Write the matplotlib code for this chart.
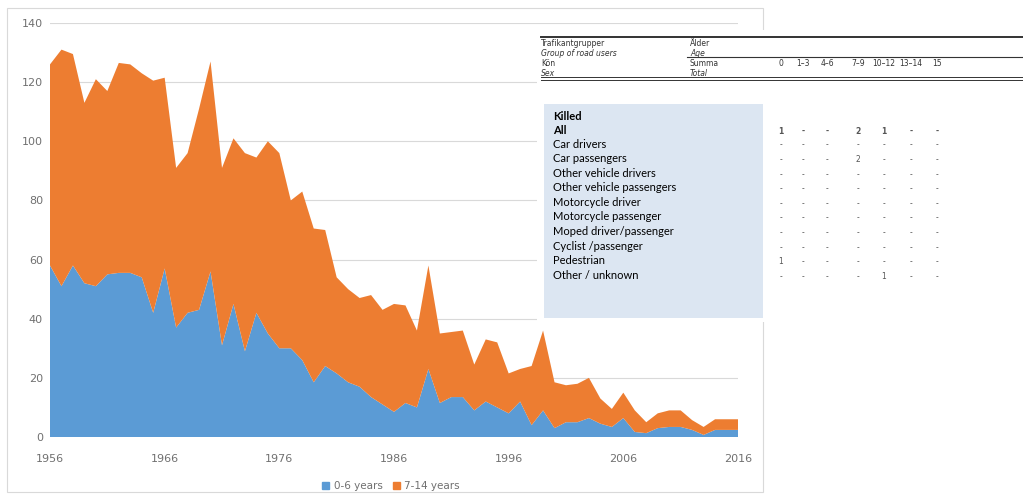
import matplotlib
matplotlib.use("Agg")
import matplotlib.pyplot as plt
from matplotlib.patches import Rectangle, Patch

# years on the x axis
years = list(range(1956, 2017))

# killed children 0-6 years (blue)
age_0_6 = [58, 51, 58, 52, 51, 55, 55.5, 55.5, 54, 42,
           57, 37, 42, 43, 56, 31, 45, 29, 42, 35,
           30, 30, 26, 18.5, 24, 21.5, 18.5, 17, 13.5, 11,
           8.5, 11.5, 10, 23, 11.5, 13.5, 13.5, 9, 12, 10,
           8, 12, 4, 9, 3, 5, 5, 6.4, 4.5, 3.4,
           6.4, 1.7, 1.3, 3, 3.4, 3.4, 2.4, 0.7, 2.4, 2.4,
           2.4]

# killed children 7-14 years (orange)
age_7_14 = [68, 80, 71.5, 61, 70, 62, 71, 70.5, 69, 78.5,
            64.5, 54, 54, 68, 71, 60, 56, 67, 52.5, 65,
            66, 50, 57, 52, 46, 32.5, 31.5, 30, 34.5, 32,
            36.5, 33, 26, 35, 23.5, 22, 22.5, 15.5, 21, 22,
            13.5, 11, 20, 27, 15.5, 12.5, 13, 13.6, 8.5, 6.1,
            8.6, 7.3, 3.7, 5, 5.6, 5.6, 3.3, 2.7, 3.6, 3.6,
            3.6]

series_names = ["0-6 years", "7-14 years"]
colors = ["#5B9BD5", "#ED7D31"]

# table that is pasted over the chart
row_labels = ["Car drivers", "Car passengers", "Other vehicle drivers",
              "Other vehicle passengers", "Motorcycle driver",
              "Motorcycle passenger", "Moped driver/passenger",
              "Cyclist /passenger", "Pedestrian", "Other / unknown"]
age_cols = ["0", "1\u20133", "4\u20136", "7\u20139", "10\u201312", "13\u201314", "15"]
all_row = ["1", "-", "-", "2", "1", "-", "-"]
table_rows = [
    ["-", "-", "-", "-", "-", "-", "-"],
    ["-", "-", "-", "2", "-", "-", "-"],
    ["-", "-", "-", "-", "-", "-", "-"],
    ["-", "-", "-", "-", "-", "-", "-"],
    ["-", "-", "-", "-", "-", "-", "-"],
    ["-", "-", "-", "-", "-", "-", "-"],
    ["-", "-", "-", "-", "-", "-", "-"],
    ["-", "-", "-", "-", "-", "-", "-"],
    ["1", "-", "-", "-", "-", "-", "-"],
    ["-", "-", "-", "-", "1", "-", "-"],
]

W, H = 1023, 496


def fx(px):
    return px / W


def fy(py):
    return 1 - py / H


fig = plt.figure(figsize=(W / 100, H / 100), dpi=100)

# chart frame
fig.patches.append(Rectangle((fx(7), fy(492)), fx(763) - fx(7), fy(8) - fy(492),
                             transform=fig.transFigure, facecolor="white",
                             edgecolor="#D9D9D9", linewidth=0.8, zorder=-1))

ax = fig.add_axes([fx(50), fy(437), fx(738) - fx(50), fy(23) - fy(437)])
ax.stackplot(years, age_0_6, age_7_14, colors=colors, zorder=2)
ax.set_xlim(1956, 2016)
ax.set_ylim(0, 140)
ax.set_xticks(range(1956, 2017, 10))
ax.set_yticks(range(0, 141, 20))
ax.grid(axis="y", color="#D9D9D9", linewidth=0.8, zorder=0)
ax.set_axisbelow(True)
for s in ax.spines.values():
    s.set_visible(False)
ax.tick_params(axis="both", length=0, labelsize=8, labelcolor="#707070")
ax.tick_params(axis="x", pad=12)
ax.tick_params(axis="y", pad=5)
ax.patch.set_alpha(0)

handles = [Patch(color=c) for c in colors]
leg = fig.legend(handles, series_names, loc="center", bbox_to_anchor=(fx(391), fy(486)),
                 ncol=2, frameon=False, fontsize=7.5, handlelength=0.7, handleheight=0.7,
                 columnspacing=1.0, handletextpad=0.4)
for t in leg.get_texts():
    t.set_color("#707070")

# pasted table
fig.patches.append(Rectangle((fx(537), fy(322)), fx(1023) - fx(537), fy(30) - fy(322),
                             transform=fig.transFigure, facecolor="white",
                             edgecolor="none", zorder=5))
fig.patches.append(Rectangle((fx(544), fy(318)), fx(763) - fx(544), fy(104) - fy(318),
                             transform=fig.transFigure, facecolor="#DCE6F2",
                             edgecolor="none", zorder=6))

line_kw = dict(transform=fig.transFigure, color="#333333", zorder=7)
fig.add_artist(plt.Line2D([fx(541), 1], [fy(37), fy(37)], linewidth=1.4, **line_kw))
fig.add_artist(plt.Line2D([fx(687), 1], [fy(57), fy(57)], linewidth=0.8, **line_kw))
fig.add_artist(plt.Line2D([fx(541), 1], [fy(77), fy(77)], linewidth=0.7, **line_kw))
fig.add_artist(plt.Line2D([fx(541), 1], [fy(80), fy(80)], linewidth=0.7, **line_kw))

hdr = dict(fontsize=5.5, color="#333333", va="center", zorder=8)
fig.text(fx(541), fy(43), "Trafikantgrupper", **hdr)
fig.text(fx(541), fy(53), "Group of road users", style="italic", **hdr)
fig.text(fx(541), fy(63), "Kön", **hdr)
fig.text(fx(541), fy(73), "Sex", style="italic", **hdr)
fig.text(fx(690), fy(43), "Ålder", **hdr)
fig.text(fx(690), fy(53), "Age", style="italic", **hdr)
fig.text(fx(690), fy(63), "Summa", **hdr)
fig.text(fx(690), fy(73), "Total", style="italic", **hdr)

col_x = [781, 803, 827, 858, 884, 911, 937]
for cx, lab in zip(col_x, age_cols):
    fig.text(fx(cx), fy(63), lab, ha="center", **hdr)

lab_kw = dict(fontsize=8, family="Lato", color="black", va="center", zorder=8)
fig.text(fx(553), fy(117), "Killed", fontweight="bold", **lab_kw)
fig.text(fx(553), fy(130), "All", fontweight="bold", **lab_kw)
for i, lab in enumerate(row_labels):
    fig.text(fx(553), fy(144 + 14.6 * i), lab, **lab_kw)

num_kw = dict(fontsize=5.5, color="#555555", va="center", ha="center", zorder=8)
for cx, v in zip(col_x, all_row):
    fig.text(fx(cx), fy(131), v, fontweight="bold", **num_kw)
for i, row in enumerate(table_rows):
    for cx, v in zip(col_x, row):
        fig.text(fx(cx), fy(145 + 14.6 * i), v, **num_kw)

fig.savefig("out.png", dpi=100)
